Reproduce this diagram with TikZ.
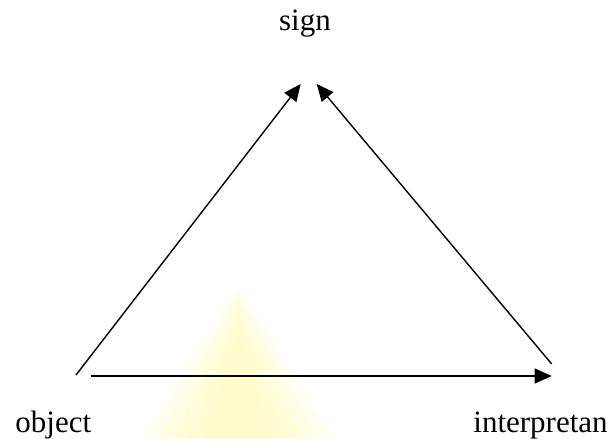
\documentclass[tikz,border=0pt]{standalone}
\usepackage{fontspec}
\setmainfont{Liberation Serif}
\usetikzlibrary{arrows.meta}
\definecolor{paleyellow}{RGB}{255,250,185}

\begin{document}
\begin{tikzpicture}[
		x=0.5pt, y=-0.5pt,
		label text/.style={font=\fontsize{15.5}{18}\selectfont, inner sep=0pt},
		edge line/.style={line width=0.7pt},
		edge arrow/.style={edge line, -{Triangle[length=8.5pt, width=7.5pt]}}
		]    % one unit is one pixel of the original picture
		\useasboundingbox (0,0) rectangle (611,439);
		% faint yellow patch behind the base
		\foreach \w/\t in {95/285, 80/295, 65/305, 50/315, 35/330}
			\fill[paleyellow, opacity=0.22] (238,\t) -- (238-\w,439) -- (238+\w,439) -- cycle;
		\node[label text, anchor=base] (sign) at (305,31) {sign};
		\node[label text, anchor=base west] (object) at (15,432) {object};
		\node[label text, anchor=base west] (interp) at (473,432) {interpretan};
		\coordinate (signL) at (300.7,84);
		\coordinate (signR) at (316.7,84);
		\coordinate (objT) at (76,375);
		\coordinate (objR) at (90.7,376);
		\coordinate (intL) at (551.7,376);
		\coordinate (intT) at (551.7,364);
		\draw[edge arrow] (objT) -- (signL);
		\draw[edge arrow] (intT) -- (signR);
		\draw[edge arrow] (objR) -- (intL);
	\end{tikzpicture}
\end{document}
